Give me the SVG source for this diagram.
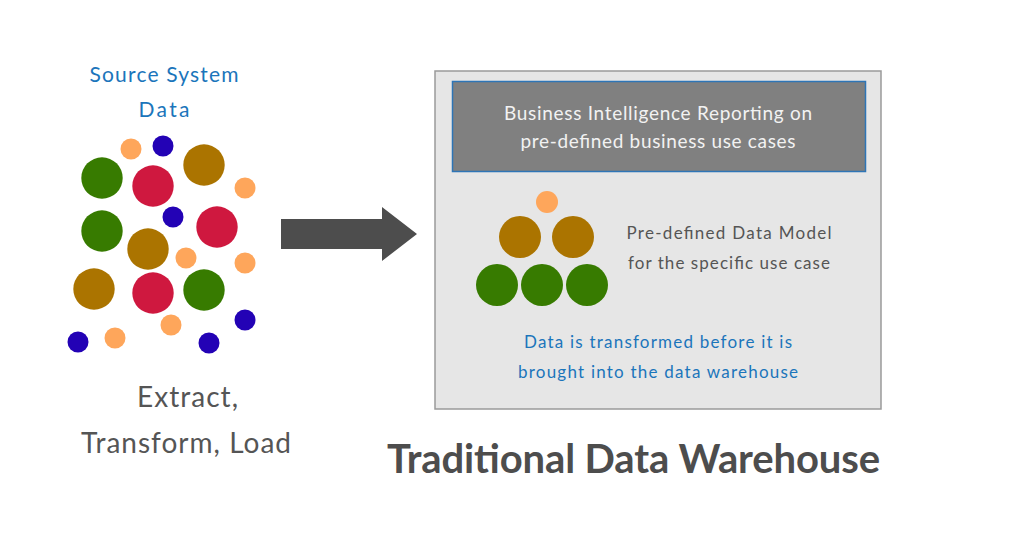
<svg xmlns="http://www.w3.org/2000/svg" width="1024" height="546" viewBox="0 0 1024 546">
<style>
text{font-family:Lato,"Open Sans","Liberation Sans",sans-serif;text-anchor:middle}
.blue{fill:#1b75bb}
.gray{fill:#555555}
.g{fill:#377b00}.r{fill:#cf183f}.b{fill:#ab7400}.o{fill:#fea65b}.d{fill:#2302b5}
</style>
<rect width="1024" height="546" fill="#ffffff"/>
<g id="source">
<text class="blue" x="164" y="82" font-size="21" textLength="149" lengthAdjust="spacing">Source System</text>
<text class="blue" x="164" y="117" font-size="21" textLength="51" lengthAdjust="spacing">Data</text>
<circle class="o" cx="131" cy="149" r="10.5"/>
<circle class="d" cx="163" cy="146" r="10.5"/>
<circle class="b" cx="204" cy="165" r="20.7"/>
<circle class="g" cx="102" cy="178" r="20.7"/>
<circle class="r" cx="153" cy="186" r="20.7"/>
<circle class="o" cx="245" cy="188" r="10.5"/>
<circle class="d" cx="173" cy="217" r="10.5"/>
<circle class="r" cx="217" cy="227" r="20.7"/>
<circle class="g" cx="102" cy="231" r="20.7"/>
<circle class="b" cx="148" cy="249" r="20.7"/>
<circle class="o" cx="186" cy="258" r="10.5"/>
<circle class="o" cx="245" cy="263" r="10.5"/>
<circle class="b" cx="94" cy="289" r="20.7"/>
<circle class="r" cx="153" cy="293" r="20.7"/>
<circle class="g" cx="204" cy="290" r="20.7"/>
<circle class="d" cx="245" cy="320" r="10.5"/>
<circle class="o" cx="171" cy="325" r="10.5"/>
<circle class="o" cx="115" cy="338" r="10.5"/>
<circle class="d" cx="78" cy="342" r="10.5"/>
<circle class="d" cx="209" cy="343" r="10.5"/>
</g>
<g id="etl">
<text class="gray" x="187.5" y="407" font-size="28" textLength="101" lengthAdjust="spacing">Extract,</text>
<text class="gray" x="186" y="453" font-size="28" textLength="210" lengthAdjust="spacing">Transform, Load</text>
</g>
<g id="connectors">
<polygon points="281,219 382,219 382,207 417,234 382,261 382,249 281,249" fill="#4d4d4d"/>
</g>
<g id="warehouse">
<rect x="435" y="71" width="446" height="338" fill="#e6e6e6" stroke="#9a9a9a" stroke-width="1.5"/>
</g>
<g id="bi">
<rect x="452.5" y="81.5" width="413" height="90" fill="#808080" stroke="#2e75b6" stroke-width="1.5"/>
<text x="658" y="120" font-size="19" fill="#f2f2f2" textLength="308" lengthAdjust="spacing">Business Intelligence Reporting on</text>
<text x="658" y="148" font-size="19" fill="#f2f2f2" textLength="275" lengthAdjust="spacing">pre-defined business use cases</text>
</g>
<g id="model">
<circle class="o" cx="547" cy="202" r="11"/>
<circle class="b" cx="520" cy="237" r="21"/>
<circle class="b" cx="573" cy="237" r="21"/>
<circle class="g" cx="497" cy="285" r="21"/>
<circle class="g" cx="542" cy="285" r="21"/>
<circle class="g" cx="587" cy="285" r="21"/>
<text class="gray" x="729" y="239" font-size="17" textLength="205" lengthAdjust="spacing">Pre-defined Data Model</text>
<text class="gray" x="729" y="269" font-size="17" textLength="202" lengthAdjust="spacing">for the specific use case</text>
</g>
<g id="note">
<text class="blue" x="658" y="348" font-size="17" textLength="268" lengthAdjust="spacing">Data is transformed before it is</text>
<text class="blue" x="658" y="378" font-size="17" textLength="280" lengthAdjust="spacing">brought into the data warehouse</text>
</g>
<g id="title">
<text x="633.5" y="473" font-size="40" font-weight="bold" fill="#4d4d4d" textLength="493" lengthAdjust="spacing">Traditional Data Warehouse</text>
</g>
</svg>
